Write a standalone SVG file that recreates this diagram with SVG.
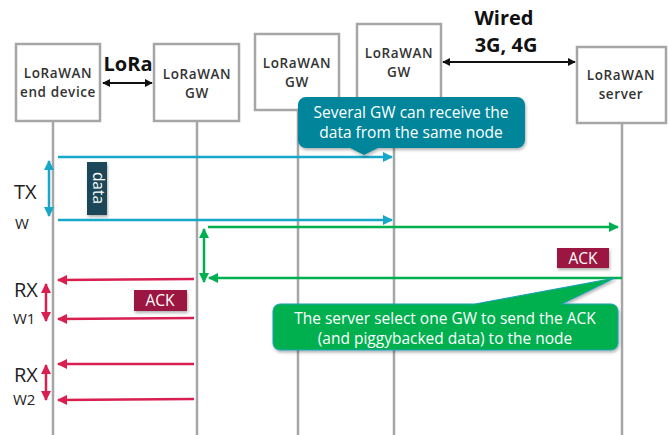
<svg xmlns="http://www.w3.org/2000/svg" width="669" height="435" viewBox="0 0 669 435">
<style>
.box{fill:#fff;stroke:#a6a6a6;stroke-width:2.5}
.life{stroke:#a6a6a6;stroke-width:2.5;fill:none}
.lbl{font-family:"Open Sans","Liberation Sans",sans-serif;font-size:13.5px;font-weight:600;fill:#333;text-anchor:middle;letter-spacing:0.6px}
.big{font-family:"Open Sans","Liberation Sans",sans-serif;font-size:20px;font-weight:700;fill:#111;text-anchor:middle}
.side{font-family:"Open Sans","Liberation Sans",sans-serif;fill:#222}
.wt{font-family:"Open Sans","Liberation Sans",sans-serif;font-size:15.5px;fill:#fff;text-anchor:middle}
.blue{stroke:#17a8c9;stroke-width:2.5;fill:none}
.green{stroke:#00b050;stroke-width:2.5;fill:none}
.red{stroke:#d81f50;stroke-width:2.5;fill:none}
.blk{stroke:#111;stroke-width:2;fill:none}
</style>
<defs>
<marker id="ab" viewBox="0 0 10 10" refX="9" refY="5" markerWidth="4" markerHeight="4" orient="auto-start-reverse"><path d="M0,0L10,5L0,10z" fill="#17a8c9"/></marker>
<marker id="ag" viewBox="0 0 10 10" refX="9" refY="5" markerWidth="4" markerHeight="4" orient="auto-start-reverse"><path d="M0,0L10,5L0,10z" fill="#00b050"/></marker>
<marker id="ar" viewBox="0 0 10 10" refX="9" refY="5" markerWidth="4" markerHeight="4" orient="auto-start-reverse"><path d="M0,0L10,5L0,10z" fill="#d81f50"/></marker>
<marker id="ak" viewBox="0 0 10 10" refX="9" refY="5" markerWidth="4" markerHeight="4" orient="auto-start-reverse"><path d="M0,0L10,5L0,10z" fill="#111"/></marker>
<filter id="sh" x="-10%" y="-10%" width="120%" height="130%"><feDropShadow dx="1" dy="2" stdDeviation="1.5" flood-color="#000" flood-opacity="0.3"/></filter>
</defs>

<g id="lifelines">
<line class="life" x1="53" y1="121" x2="53" y2="435"/>
<line class="life" x1="197" y1="121" x2="197" y2="435"/>
<line class="life" x1="298" y1="110" x2="298" y2="435"/>
<line class="life" x1="394" y1="100" x2="394" y2="435"/>
<line class="life" x1="622" y1="123" x2="622" y2="435"/>
</g>

<g id="node-end-device">
<rect class="box" x="16" y="44" width="84" height="77"/>
<text class="lbl" x="58" y="78">LoRaWAN</text>
<text class="lbl" x="58" y="97">end device</text>
</g>
<g id="node-gw1">
<rect class="box" x="154" y="44" width="85" height="77"/>
<text class="lbl" x="197" y="79">LoRaWAN</text>
<text class="lbl" x="197" y="98">GW</text>
</g>
<g id="node-gw2">
<rect class="box" x="255" y="34" width="84" height="76"/>
<text class="lbl" x="297" y="68">LoRaWAN</text>
<text class="lbl" x="297" y="87">GW</text>
</g>
<g id="node-gw3">
<rect class="box" x="357" y="24" width="84" height="76"/>
<text class="lbl" x="399" y="58">LoRaWAN</text>
<text class="lbl" x="399" y="77">GW</text>
</g>
<g id="node-server">
<rect class="box" x="577" y="47" width="89" height="76"/>
<text class="lbl" x="621" y="80">LoRaWAN</text>
<text class="lbl" x="621" y="99">server</text>
</g>

<g id="links">
<text class="big" x="128" y="71">LoRa</text>
<line class="blk" x1="103" y1="83" x2="152" y2="83" marker-start="url(#ak)" marker-end="url(#ak)"/>
<text class="big" x="504" y="25">Wired</text>
<text class="big" x="506" y="52">3G, 4G</text>
<line class="blk" x1="443" y1="62" x2="575" y2="62" marker-start="url(#ak)" marker-end="url(#ak)"/>
</g>

<g id="connectors">
<line class="blue" x1="58" y1="157" x2="392" y2="157" marker-end="url(#ab)"/>
<line class="blue" x1="58" y1="220" x2="392" y2="220" marker-end="url(#ab)"/>
<line class="blue" x1="49" y1="161" x2="49" y2="216" marker-start="url(#ab)" marker-end="url(#ab)"/>
<line class="green" x1="208" y1="227" x2="618" y2="227" marker-end="url(#ag)"/>
<line class="green" x1="622" y1="278" x2="209" y2="278" marker-end="url(#ag)"/>
<line class="green" x1="204" y1="229" x2="204" y2="282" marker-start="url(#ag)" marker-end="url(#ag)"/>
<line class="red" x1="194" y1="279" x2="58" y2="280" marker-end="url(#ar)"/>
<line class="red" x1="194" y1="318" x2="58" y2="319" marker-end="url(#ar)"/>
<line class="red" x1="194" y1="364" x2="58" y2="364" marker-end="url(#ar)"/>
<line class="red" x1="194" y1="399" x2="58" y2="400" marker-end="url(#ar)"/>
<line class="red" x1="46" y1="284" x2="46" y2="321" marker-start="url(#ar)" marker-end="url(#ar)"/>
<line class="red" x1="46" y1="365" x2="46" y2="400" marker-start="url(#ar)" marker-end="url(#ar)"/>
</g>

<g id="labels">
<text class="side" x="14" y="199" font-size="20">TX</text>
<text class="side" x="15" y="229" font-size="15">W</text>
<text class="side" x="14" y="297" font-size="20">RX</text>
<text class="side" x="13" y="324" font-size="15">W1</text>
<text class="side" x="14" y="382" font-size="20">RX</text>
<text class="side" x="13" y="405" font-size="15">W2</text>
</g>

<g id="data-tag">
<rect x="87" y="162" width="20" height="53" fill="#1f4759" filter="url(#sh)"/>
<text class="wt" font-size="12.5" transform="translate(93,188) rotate(90)" text-anchor="middle">data</text>
</g>

<g id="ack-1">
<rect x="557" y="248" width="52" height="20" fill="#9b1740" filter="url(#sh)"/>
<text class="wt" x="583" y="263.5" font-size="14">ACK</text>
</g>
<g id="ack-2">
<rect x="134" y="290" width="53" height="21" fill="#9b1740" filter="url(#sh)"/>
<text class="wt" x="160" y="305.5" font-size="14">ACK</text>
</g>

<g id="callout-teal">
<path d="M306,97H517a8,8 0 0 1 8,8V140a8,8 0 0 1 -8,8H378L364,155L350,148H306a8,8 0 0 1 -8,-8V105a8,8 0 0 1 8,-8z" fill="#00859a" filter="url(#sh)"/>
<text class="wt" x="411" y="118">Several GW can receive the</text>
<text class="wt" x="411" y="138">data from the same node</text>
</g>

<g id="callout-green">
<path d="M280,304H475L615,278L562,304H611a7,7 0 0 1 7,7V343a7,7 0 0 1 -7,7H280a7,7 0 0 1 -7,-7V311a7,7 0 0 1 7,-7z" fill="#00b050" stroke="#1aa0b8" stroke-width="1" filter="url(#sh)"/>
<text class="wt" x="445" y="324">The server select one GW to send the ACK</text>
<text class="wt" x="445" y="344">(and piggybacked data) to the node</text>
</g>
</svg>
